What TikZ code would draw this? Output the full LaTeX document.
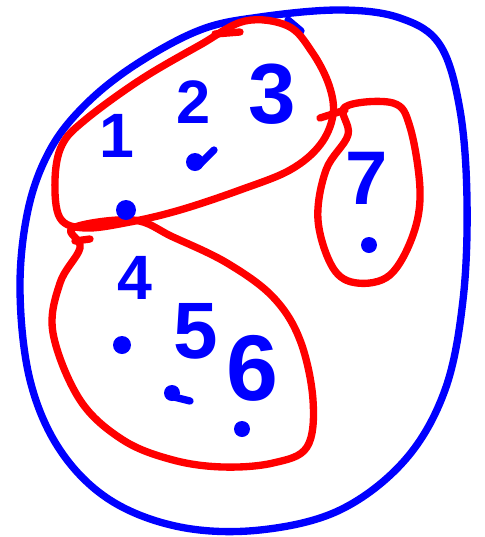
\documentclass[tikz,border=0pt]{standalone}
\usepackage{fontspec}
\setsansfont{Liberation Sans}
\usepackage{tikz}
\definecolor{penblue}{HTML}{0000FF}
\definecolor{penred}{HTML}{FF0000}

\begin{document}
\begin{tikzpicture}[x=0.75pt,y=-0.75pt,
  bigset/.style={draw=penblue,line width=5.5pt,line cap=round,line join=round},
  part/.style={draw=penred,line width=5.5pt,line cap=round,line join=round},
  digit/.style={text=penblue,inner sep=0pt,font=\sffamily\bfseries\fontsize{#1}{#1}\selectfont},
  elem/.style={fill=penblue,draw=none}]
\useasboundingbox (0,0) rectangle (485,537);
% the whole set
\draw[bigset] plot[smooth cycle,tension=0.6] coordinates {
  (200,30) (260,17) (340,10) (400,18) (440,45) (460,110) (467,200) (463,300)
  (445,390) (405,460) (340,510) (260,530) (180,527) (110,500) (60,450)
  (30,380) (20,290) (28,210) (50,150) (85,105) (135,65)};
\draw[bigset] (288,20) -- (301,31);
% the three parts
\draw[part] plot[smooth cycle,tension=0.6] coordinates {
  (245,21) (288,26) (312,52) (329,85) (333,115) (320,145) (290,170) (240,190)
  (180,210) (130,222) (85,228) (60,218) (55,180) (62,145) (85,120) (140,80) (200,45)};
\draw[part] (215,34) -- (240,32);
\draw[part] plot[smooth cycle,tension=0.6] coordinates {
  (73,228) (133,220) (173,237) (227,263) (273,297) (300,340) (313,400)
  (307,447) (273,463) (223,467) (173,460) (123,440) (80,400) (53,333) (60,283) (80,248)};
\draw[part] (75,241) -- (90,239);
\draw[part] plot[smooth cycle,tension=0.6] coordinates {
  (345,107) (393,103) (410,127) (420,190) (413,235) (390,275) (357,283)
  (333,268) (318,220) (326,170) (348,135)};
\draw[part] (320,118) -- (345,110);
% numbers
\node[digit=47] (n1) at (117,136) {1};
\node[digit=46] (n2) at (194,102) {2};
\node[digit=64] (n3) at (272,94) {3};
\node[digit=57] (n7) at (367,178) {7};
\node[digit=47] (n4) at (135,278) {4};
\node[digit=60] (n5) at (196,331) {5};
\node[digit=70] (n6) at (252,368) {6};
% elements
\fill[elem] (195,162) circle (9);
\draw[bigset] (200,164) -- (214,150);
\fill[elem] (126,210) circle (10);
\fill[elem] (369,245) circle (8);
\fill[elem] (122,345) circle (9);
\fill[elem] (172,393) circle (8);
\draw[bigset] (174,397) -- (190,401);
\fill[elem] (242,429) circle (8);
\end{tikzpicture}
\end{document}
